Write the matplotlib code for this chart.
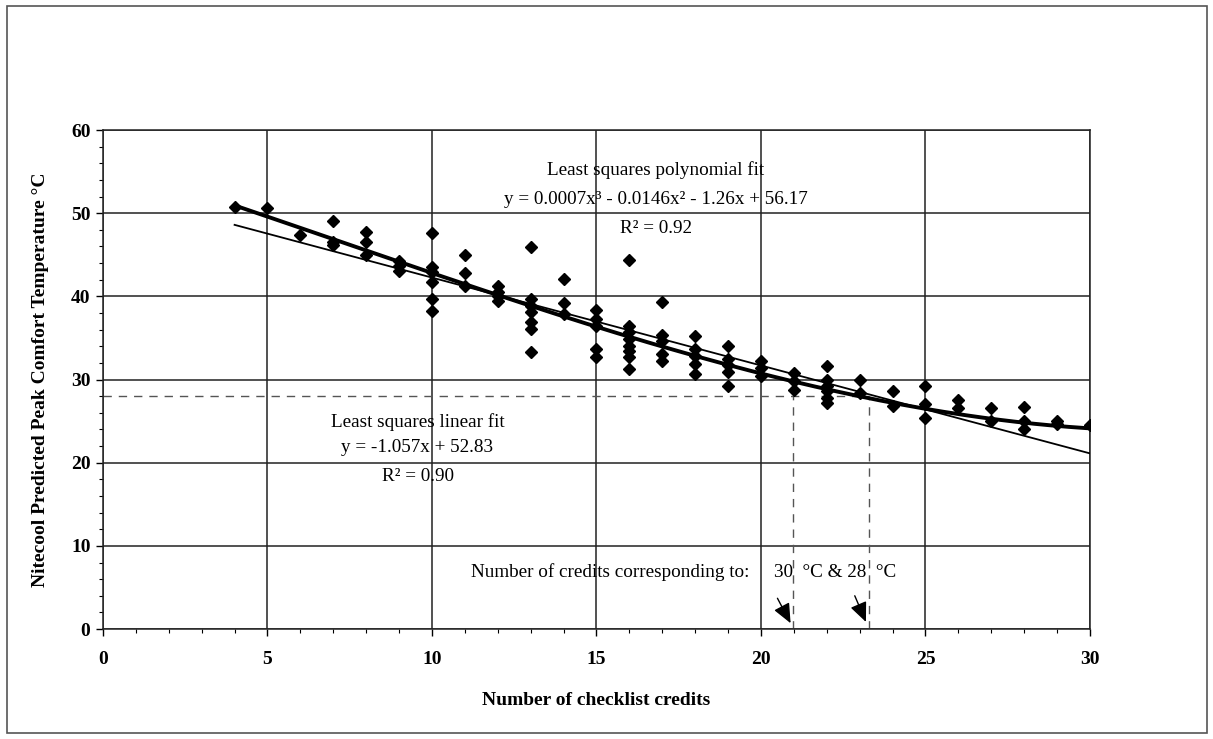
import numpy as np
import matplotlib
matplotlib.use("Agg")
import matplotlib.pyplot as plt
from matplotlib.patches import Rectangle
from matplotlib.ticker import MultipleLocator

plt.rcParams['font.family'] = ['Liberation Serif', 'DejaVu Serif']

# checklist credits and predicted peak comfort temperature
credits = [4, 5, 6,
           7, 7, 7,
           8, 8, 8,
           9, 9, 9,
           10, 10, 10, 10, 10, 10,
           11, 11, 11,
           12, 12, 12, 12,
           13, 13, 13, 13, 13, 13, 13,
           14, 14, 14,
           15, 15, 15, 15, 15,
           16, 16, 16, 16, 16, 16, 16, 16,
           17, 17, 17, 17, 17,
           18, 18, 18, 18, 18,
           19, 19, 19, 19, 19,
           20, 20, 20,
           21, 21, 21,
           22, 22, 22, 22, 22, 22,
           23, 23,
           24, 24,
           25, 25, 25,
           26, 26,
           27, 27,
           28, 28, 28,
           29, 29,
           30]
temps = [50.7, 50.6, 47.4,
         49.1, 46.5, 46.2,
         47.8, 46.6, 45.0,
         44.2, 43.6, 43.0,
         47.6, 43.5, 42.9, 41.7, 39.7, 38.2,
         45.0, 42.8, 41.3,
         41.3, 40.5, 40.0, 39.5,
         45.9, 39.7, 38.8, 38.1, 36.9, 36.1, 33.3,
         42.1, 39.2, 37.9,
         38.4, 37.3, 36.4, 33.7, 32.7,
         44.4, 36.4, 35.7, 34.9, 34.0, 33.4, 32.7, 31.3,
         39.3, 35.3, 34.6, 33.1, 32.2,
         35.2, 33.7, 32.8, 31.9, 30.7,
         34.0, 32.5, 31.7, 30.9, 29.2,
         32.2, 31.4, 30.4,
         30.8, 29.8, 28.8,
         31.6, 30.0, 29.2, 28.6, 27.8, 27.2,
         30.0, 28.4,
         28.6, 26.8,
         29.2, 27.0, 25.4,
         27.6, 26.6,
         26.6, 25.0,
         26.7, 25.0, 24.0,
         25.0, 24.6,
         24.5]

# fitted curves as given on the chart
lin_coef = [-1.057, 52.83]
poly_coef = [0.0007, -0.0146, -1.26, 56.17]

# credits read for 30 C and 28 C
target_temp = 28
credit_marks = [20.97, 23.27]

fig = plt.figure(figsize=(12.13, 7.39), dpi=100)
ax = fig.add_axes([0.0849, 0.1488, 0.8137, 0.6752])

xs = np.linspace(4, 30, 200)
ax.plot(xs, np.polyval(poly_coef, xs), color='black', lw=2.8, zorder=3)
ax.plot(xs, np.polyval(lin_coef, xs), color='black', lw=1.3, zorder=3)
ax.plot(credits, temps, 'D', color='black', ms=6, zorder=4)

# dashed read-off lines
ax.plot([0, credit_marks[1]], [target_temp, target_temp], color='#555555',
        lw=1, dashes=(6, 5), zorder=2)
for c in credit_marks:
    ax.plot([c, c], [0, target_temp], color='#555555', lw=1, dashes=(6, 5), zorder=2)

ax.set_xlim(0, 30)
ax.set_ylim(0, 60)
ax.xaxis.set_major_locator(MultipleLocator(5))
ax.xaxis.set_minor_locator(MultipleLocator(1))
ax.yaxis.set_major_locator(MultipleLocator(10))
ax.yaxis.set_minor_locator(MultipleLocator(2))
ax.grid(True, which='major', color='#222222', lw=1.1)
ax.set_axisbelow(True)
ax.tick_params(which='major', direction='out', length=5, width=1, labelsize=14)
ax.tick_params(axis='x', which='major', pad=11)
ax.tick_params(axis='y', which='major', pad=4)
ax.tick_params(which='minor', direction='out', length=3, width=0.8)
for lab in ax.get_xticklabels() + ax.get_yticklabels():
    lab.set_fontweight('bold')
for sp in ax.spines.values():
    sp.set_color('#222222')
    sp.set_linewidth(1.1)

ax.set_xlabel('Number of checklist credits', fontsize=14, fontweight='bold',
              labelpad=17)
ax.set_ylabel('Nitecool Predicted Peak Comfort Temperature °C', fontsize=14,
              fontweight='bold', labelpad=16)

fs = 13.8
ax.text(16.8, 55.2, 'Least squares polynomial fit', ha='center', va='center', fontsize=fs)
ax.text(16.8, 51.7, 'y = 0.0007x³ - 0.0146x² - 1.26x + 56.17', ha='center',
        va='center', fontsize=fs)
ax.text(16.8, 48.2, 'R² = 0.92', ha='center', va='center', fontsize=fs)
ax.text(9.56, 24.9, 'Least squares linear fit', ha='center', va='center', fontsize=fs)
ax.text(9.55, 21.8, 'y = -1.057x + 52.83', ha='center', va='center', fontsize=fs)
ax.text(9.57, 18.3, 'R² = 0.90', ha='center', va='center', fontsize=fs)
ax.text(11.2, 6.85, 'Number of credits corresponding to:', ha='left', va='center',
        fontsize=fs)
ax.text(20.4, 6.85, '30  °C & 28  °C', ha='left', va='center', fontsize=fs)

arrow_style = dict(arrowstyle='-|>,head_length=0.8,head_width=0.35', mutation_scale=15,
                   color='black', lw=1, shrinkA=0, shrinkB=0)
ax.annotate('', xy=(20.9, 0.7), xytext=(20.5, 3.7), arrowprops=arrow_style)
ax.annotate('', xy=(23.19, 0.85), xytext=(22.85, 4.0), arrowprops=arrow_style)

fig.patches.append(Rectangle((0.0058, 0.0081), 0.9893, 0.9838, transform=fig.transFigure,
                             fill=False, edgecolor='#555555', lw=1.2))

fig.savefig('out.png', dpi=100)
